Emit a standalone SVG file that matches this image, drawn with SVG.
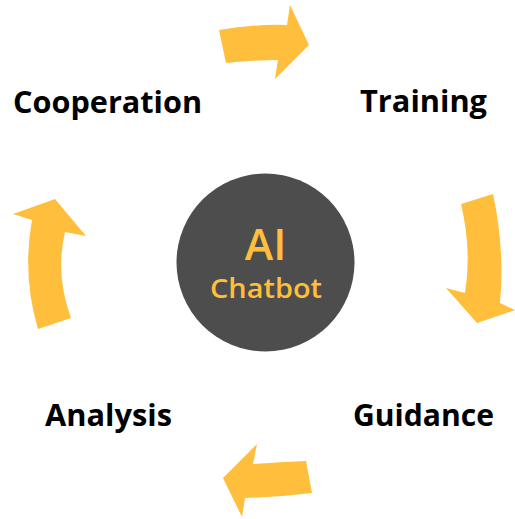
<svg xmlns="http://www.w3.org/2000/svg" width="515" height="519" viewBox="0 0 515 519">
<style>
.arrow{fill:#FFBE3C;stroke:none}
.lbl{font-family:"Open Sans","Noto Sans",sans-serif;font-weight:700;font-size:30px;fill:#000}
.ctr{font-family:"Open Sans","Noto Sans",sans-serif;font-weight:600;fill:#FFBE3C;text-anchor:middle}
</style>
<rect width="515" height="519" fill="#fff"/>
<g id="center">
<circle cx="265.5" cy="262.5" r="89" fill="#4D4D4D"/>
<text class="ctr" x="265.5" y="260" font-size="43">AI</text>
<text class="ctr" x="266" y="298" font-size="27" textLength="112" lengthAdjust="spacingAndGlyphs">Chatbot</text>
</g>
<g id="training"><text class="lbl" x="360" y="112" textLength="127" lengthAdjust="spacingAndGlyphs">Training</text></g>
<g id="guidance"><text class="lbl" x="353" y="426" textLength="141" lengthAdjust="spacingAndGlyphs">Guidance</text></g>
<g id="analysis"><text class="lbl" x="45" y="426" textLength="127" lengthAdjust="spacingAndGlyphs">Analysis</text></g>
<g id="cooperation"><text class="lbl" x="13" y="113" textLength="189" lengthAdjust="spacingAndGlyphs">Cooperation</text></g>
<g id="connectors">
<path class="arrow" d="M219,30 Q253,24 287,25 L290,5 L309,45 L275,79 L278,60 Q252,60 226,63 Z"/>
<path class="arrow" d="M461,204 L493,194 Q505,250 500,303 L515,310 L477,323 L446,288 L465,293 Q472,250 461,204 Z"/>
<path class="arrow" d="M306,461 L312,493 Q280,497 245,498 L242,517 L223,478 L257,444 L253,464 Q280,462 306,461 Z"/>
<path class="arrow" d="M38,329 Q22,275 32,220 L13,214 L55,199 L86,236 L65,232 Q55,275 71,318 Z"/>
</g>
</svg>
